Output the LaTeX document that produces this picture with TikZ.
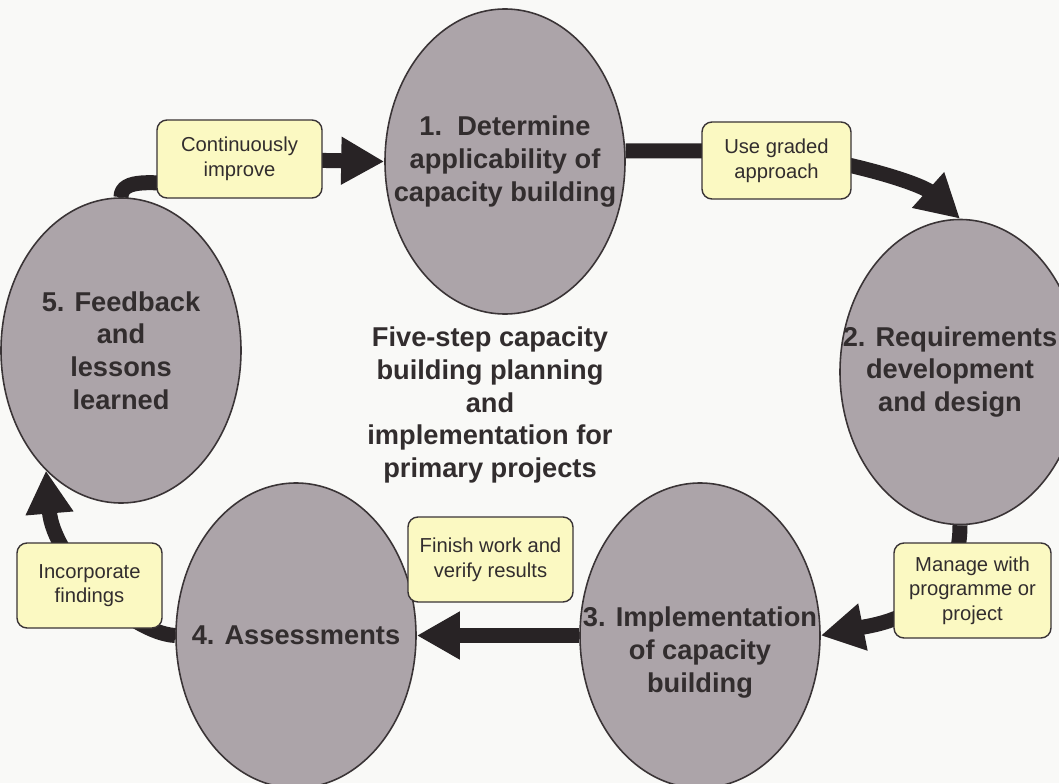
\documentclass[tikz,border=0pt]{standalone}
\usepackage{fontspec}
\setmainfont{Liberation Sans}
\usetikzlibrary{arrows.meta,shapes.geometric,backgrounds,calc}
\definecolor{StepGray}  {RGB}{172,164,169}
\definecolor{NoteYellow}{RGB}{251,249,194}
\definecolor{EdgeDark}  {RGB}{ 58, 52, 54}
\definecolor{ArrowDark} {RGB}{ 40, 35, 37}
\definecolor{TextDark}  {RGB}{ 50, 45, 46}
\definecolor{PaperWhite}{RGB}{249,249,247}
\tikzset{
  %% 步骤文字
  steptxt/.style={align=center,text=TextDark,
                  font=\fontsize{15.5}{18.6}\selectfont\bfseries},
  %% 步骤椭圆（文字用 label 放在中心，椭圆大小固定）
  stepell/.style={ellipse,draw=EdgeDark,line width=0.9pt,
                  fill=StepGray,inner sep=0pt,
                  minimum width=4.8cm,minimum height=6.1cm},
  %% 黄色说明框
  notebox/.style={rectangle,rounded corners=0.2cm,
                  draw=EdgeDark,line width=0.8pt,fill=NoteYellow,
                  inner sep=0pt,align=center,text=TextDark,
                  font=\fontsize{11.5}{14}\selectfont},
  %% 粗箭头
  flowarr/.style={-{Triangle[length=0.86cm,width=0.9cm]},
                  line width=0.3cm,draw=ArrowDark,line join=round},
}

\begin{document}
\begin{tikzpicture}
  \useasboundingbox (0,0) rectangle (21.18,15.66);
  \begin{scope}[on background layer]
    \fill[PaperWhite] (0,0) rectangle (21.18,15.66);
  \end{scope}

  %% 五个步骤
  \node[stepell,
        label={[steptxt]center:{1.\ \ Determine\\applicability of\\capacity building}}]
        (s1) at (10.10,12.43) {};
  \node[stepell,
        label={[steptxt,xshift=-0.2cm]center:{2. Requirements\\development\\and design}}]
        (s2) at (19.20,8.22) {};
  \node[stepell,
        label={[steptxt,yshift=-0.34cm]center:{3. Implementation\\of capacity\\building}}]
        (s3) at (14.00,2.95) {};
  \node[stepell,
        label={[steptxt]center:{4. Assessments}}]
        (s4) at (5.92,2.95) {};
  \node[stepell,
        label={[steptxt]center:{5. Feedback\\and\\lessons\\learned}}]
        (s5) at (2.42,8.65) {};

  %% 中间标题
  \node[steptxt] (title) at (9.80,7.56)
    {Five-step capacity\\building planning\\and\\implementation for\\primary projects};

  %% 说明框
  \node[notebox,minimum width=3.30cm,minimum height=1.56cm] (b1) at (4.79,12.48) {Continuously\\improve};
  \node[notebox,minimum width=2.98cm,minimum height=1.54cm] (b2) at (15.53,12.45) {Use graded\\approach};
  \node[notebox,minimum width=3.14cm,minimum height=1.90cm] (b3) at (19.45,3.85) {Manage with\\programme or\\project};
  \node[notebox,minimum width=3.30cm,minimum height=1.70cm] (b5) at (9.81,4.47) {Finish work and\\verify results};
  \node[notebox,minimum width=2.90cm,minimum height=1.70cm] (b4) at (1.79,3.95) {Incorporate\\findings};

  %% 箭头（压在说明框下面）
  \begin{scope}[on background layer]
    \draw[flowarr] (s5.north) .. controls +(0,0.4) and +(-0.5,0)
      .. ($(b1.south west)+(0.5,0.3)$) -- (b1.center) -- (s1.west);
    \draw[flowarr] (s1.5) -- (s1.5 -| b2.center)
      .. controls +(2.07,-0.34) and +(-0.7,0.63) .. (s2.north);
    \draw[flowarr] (s2.south) .. controls +(0,-1.8) and +(1.0,0.2) .. (s3.east);
    \draw[flowarr] (s3.west) -- (s4.east);
    \draw[flowarr] (s4.west) .. controls +(-0.9,0.05) and +(0.15,-1.8) .. (s5.238);
  \end{scope}
\end{tikzpicture}
\end{document}
